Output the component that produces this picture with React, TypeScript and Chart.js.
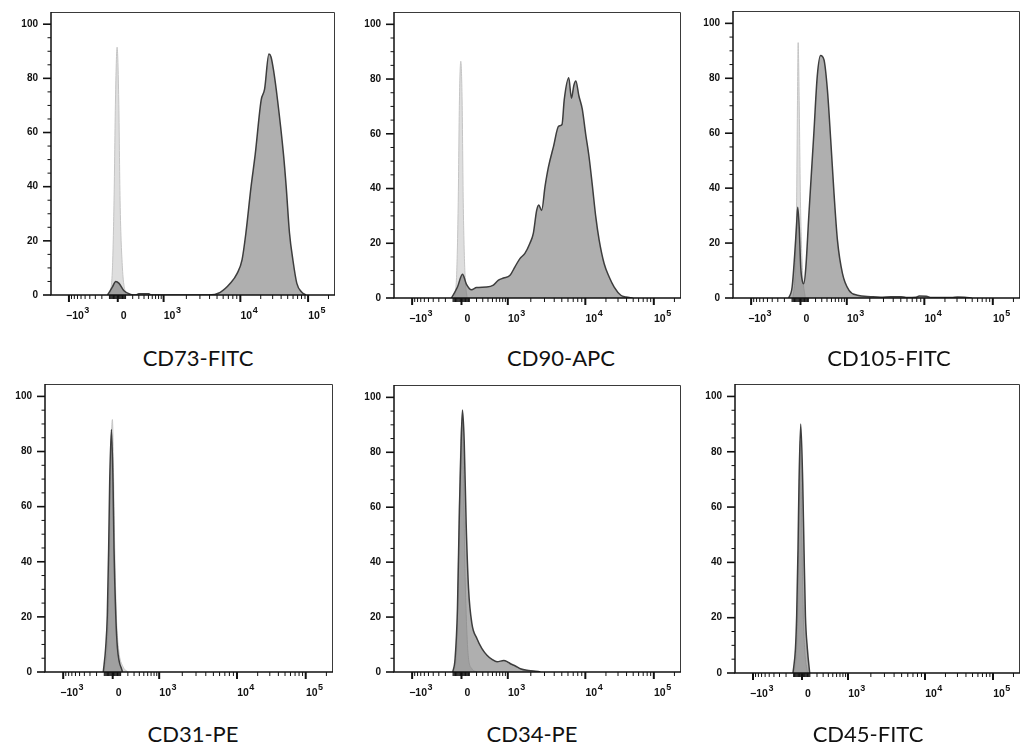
import React, { useEffect, useRef } from 'react';
import { Chart, Scale, registerables } from 'chart.js';

// ---------------- Axis ticks ----------------
const Y_TICKS = [0, 5, 10, 15, 20, 25, 30, 35, 40, 45, 50, 55, 60, 65, 70, 75, 80, 85, 90, 95, 100];
const Y_LABELLED = [0, 20, 40, 60, 80, 100];
const Y_MAX = 104.5;

const X_MAJOR_TICKS = [-1000, 0, 1000, 10000, 100000];
const X_TICK_BASES = ['\u221210', '0', '10', '10', '10'];
const X_TICK_EXPONENTS = ['3', '', '3', '4', '5'];
const X_MINOR_TICKS = [
  -900, -800, -700, -600, -500, -400, -300, -200, -100,
  -90, -80, -70, -60, -50, -40, -30, -20, -10,
  10, 20, 30, 40, 50, 60, 70, 80, 90,
  100, 200, 300, 400, 500, 600, 700, 800, 900,
  2000, 3000, 4000, 5000, 6000, 7000, 8000, 9000,
  20000, 30000, 40000, 50000, 60000, 70000, 80000, 90000,
  200000,
];

// ---------------- Histogram data (fluorescence value, % of max) ----------------
// CD73-FITC
const CD73_X = [-124, -63, -24, 16, 79, 171, 250, 300, 510, 560, 3870, 5500, 7420, 9100, 10600, 12100, 14400, 16600, 20300, 22800, 26400, 28300, 30900, 35400, 43300, 47500, 53100, 59600, 68200, 80900, 93000];
const CD73_Y = [0, 3, 5, 4.3, 1.6, 0.2, 0, 0.5, 0.5, 0, 0, 1, 4.3, 8, 13, 23, 40, 52, 72, 76, 89, 88, 83, 72, 52, 40, 23, 13, 4.3, 1, 0];
const CD73_ISO_X = [-95, -63, -44, -27, -8, 12.5, 29, 59, 100];
const CD73_ISO_Y = [0, 10, 35, 72, 91.5, 72, 35, 10, 0];

// CD90-APC
const CD90_X = [-120, -47, 12.5, 63, 128, 200, 373, 523, 662, 829, 1071, 1244, 1444, 1677, 1948, 2155, 2380, 2530, 2760, 3050, 3380, 3920, 4560, 5030, 5380, 6140, 6640, 7130, 7560, 8280, 9140, 10100, 11300, 12700, 14200, 15900, 18800, 22300, 26400, 33000, 39100, 49100];
const CD90_Y = [0, 4, 8.7, 5, 3, 3.8, 4, 4.7, 6.5, 7.3, 8.3, 11.4, 14.4, 16.3, 20, 23.6, 32, 34, 32, 40.8, 48, 55.4, 62.8, 63.4, 72.6, 80.5, 73, 77.7, 79.3, 73.8, 69, 60, 51.8, 40.8, 29.7, 21.2, 12.6, 7.7, 4, 1, 0.4, 0];
const CD90_ISO_X = [-80, -55, -38, -24, -8, 8, 22, 42, 70];
const CD90_ISO_Y = [0, 10, 35, 72, 86.5, 72, 35, 10, 0];

// CD105-FITC
const CD105_X = [-142, -99, -67.5, -47, -32, -15, 3.8, 25, 41, 67, 105, 175, 226, 280, 340, 408, 482, 565, 662, 829, 1071, 1377, 2050, 2760, 3730, 5030, 5830, 7850, 8600, 10700, 12700, 25000, 30600, 38700, 49100];
const CD105_Y = [0, 4, 16, 26, 33, 26, 11, 6, 5.2, 11, 29.6, 60, 80.8, 88.3, 86.8, 75.9, 57.6, 38, 21, 8.9, 2.8, 1, 0.5, 0.3, 0.5, 0.5, 0.2, 0.3, 0.7, 0.6, 0.2, 0.2, 0.4, 0.3, 0];
const CD105_ISO_X = [-90, -62, -45, -35, -27, -15, 0, 25, 60];
const CD105_ISO_Y = [0, 10, 35, 72, 93, 72, 35, 10, 0];

// CD31-PE
const CD31_X = [-112, -83, -63, -47, -35, -15, 4, 16, 38, 59, 124];
const CD31_Y = [0, 8.7, 20.7, 45, 69, 88, 69, 45, 20.7, 8.7, 0];
const CD31_ISO_X = [-110, -67, -50, -36, -26, -3.5, 12, 25, 45, 75, 130, 200];
const CD31_ISO_Y = [0, 8, 21, 45, 69, 91.6, 69, 45, 21, 8, 2, 0];

// CD34-PE
const CD34_X = [-104, -75, -47, -23.5, -3.5, 12.5, 34, 59, 89, 133, 205, 286, 379, 489, 620, 840, 971, 1084, 1259, 1462, 1780, 2176, 2657];
const CD34_Y = [0, 4.9, 23, 60, 84, 95.4, 84, 53.7, 30.5, 17.7, 12.2, 8.5, 6.1, 4.6, 3.7, 4.2, 3.8, 3, 2.2, 1.2, 0.6, 0.4, 0];
const CD34_ISO_X = [-95.5, -55.6, -32, -8.2, 8.8, 25, 41, 59, 85, 133, 205];
const CD34_ISO_Y = [0, 8.5, 47.6, 84, 91, 72, 41, 21, 6, 1.2, 0];

// CD45-FITC
const CD45_X = [-108, -78, -63, -47, -35, -15, 9, 25, 43, 68, 98];
const CD45_Y = [0, 8.7, 20.7, 45, 69, 90, 69, 45, 20.7, 8.7, 0];
const CD45_ISO_X = [-95, -65, -50, -38, -20, -2, 15, 35, 70];
const CD45_ISO_Y = [0, 8, 22, 50, 84, 50, 22, 8, 0];

// ---------------- Biexponential (asinh-based) axis ----------------
const BIEX_WIDTH = 300;
const BIEX_ANCHOR_VALUES = [-1000, 0, 1000, 10000, 100000];
const BIEX_ANCHOR_POS = [-49, 0, 46, 123, 191];
const VIEW_LEFT = -67;
const VIEW_RIGHT = 218;
const BIEX_ANCHOR_U = BIEX_ANCHOR_VALUES.map((v) => Math.asinh(v / BIEX_WIDTH));

function toDisplay(v: number): number {
  const u = Math.asinh(v / BIEX_WIDTH);
  let i = 0;
  while (i < BIEX_ANCHOR_U.length - 2 && u > BIEX_ANCHOR_U[i + 1]) i++;
  const t = (u - BIEX_ANCHOR_U[i]) / (BIEX_ANCHOR_U[i + 1] - BIEX_ANCHOR_U[i]);
  return BIEX_ANCHOR_POS[i] + t * (BIEX_ANCHOR_POS[i + 1] - BIEX_ANCHOR_POS[i]);
}
function fromDisplay(s: number): number {
  let i = 0;
  while (i < BIEX_ANCHOR_POS.length - 2 && s > BIEX_ANCHOR_POS[i + 1]) i++;
  const t = (s - BIEX_ANCHOR_POS[i]) / (BIEX_ANCHOR_POS[i + 1] - BIEX_ANCHOR_POS[i]);
  const u = BIEX_ANCHOR_U[i] + t * (BIEX_ANCHOR_U[i + 1] - BIEX_ANCHOR_U[i]);
  return BIEX_WIDTH * Math.sinh(u);
}
const X_MIN = fromDisplay(VIEW_LEFT);
const X_MAX = fromDisplay(VIEW_RIGHT);

class BiexScale extends Scale {
  static id = 'biex';
  static defaults = {};
  _sMin = 0;
  _sMax = 1;
  determineDataLimits() {
    const { min, max } = (this as any).getMinMax(true);
    (this as any).min = min;
    (this as any).max = max;
  }
  buildTicks() {
    const all = [
      ...X_MAJOR_TICKS.map((v) => ({ value: v, major: true })),
      ...X_MINOR_TICKS.map((v) => ({ value: v, major: false })),
    ];
    return all.sort((a, b) => a.value - b.value);
  }
  configure() {
    super.configure();
    this._sMin = toDisplay((this as any).min);
    this._sMax = toDisplay((this as any).max);
  }
  getPixelForValue(value: number) {
    if (value === null || value === undefined || isNaN(value)) return NaN;
    return (this as any).getPixelForDecimal((toDisplay(value) - this._sMin) / (this._sMax - this._sMin));
  }
  getValueForPixel(pixel: number) {
    const dec = (this as any).getDecimalForPixel(pixel);
    return fromDisplay(this._sMin + dec * (this._sMax - this._sMin));
  }
  getLabelForValue(value: number) {
    return String(value);
  }
}

Chart.register(...registerables, BiexScale as any);

// ---------------- Layout ----------------
const AXIS_W = 48;
const AXIS_H = 32;
const PAD_T = 4;
const PAD_R = 6;
const LABEL_FONT = '"Liberation Sans", Arial, sans-serif';

type PanelDef = {
  title: string;
  sx: number[]; sy: number[]; ix: number[]; iy: number[];
  area: [number, number, number, number];
  titleX: number; titleBaseline: number;
};

const PANELS: PanelDef[] = [
  { title: 'CD73-FITC', sx: CD73_X, sy: CD73_Y, ix: CD73_ISO_X, iy: CD73_ISO_Y, area: [51, 12, 335, 295], titleX: 198, titleBaseline: 366 },
  { title: 'CD90-APC', sx: CD90_X, sy: CD90_Y, ix: CD90_ISO_X, iy: CD90_ISO_Y, area: [394, 12, 681, 298], titleX: 561, titleBaseline: 366 },
  { title: 'CD105-FITC', sx: CD105_X, sy: CD105_Y, ix: CD105_ISO_X, iy: CD105_ISO_Y, area: [733, 11, 1020, 298], titleX: 889, titleBaseline: 366 },
  { title: 'CD31-PE', sx: CD31_X, sy: CD31_Y, ix: CD31_ISO_X, iy: CD31_ISO_Y, area: [45, 384, 333, 672], titleX: 193, titleBaseline: 742 },
  { title: 'CD34-PE', sx: CD34_X, sy: CD34_Y, ix: CD34_ISO_X, iy: CD34_ISO_Y, area: [394, 385, 681, 672], titleX: 532, titleBaseline: 742 },
  { title: 'CD45-FITC', sx: CD45_X, sy: CD45_Y, ix: CD45_ISO_X, iy: CD45_ISO_Y, area: [735, 384, 1020, 673], titleX: 868, titleBaseline: 742 },
];

const axisPlugin = {
  id: 'flowAxes',
  afterDraw(chart: any) {
    const { ctx, chartArea: a, scales } = chart;
    const xs = scales.x;
    const ys = scales.y;
    ctx.save();
    // frame: top & right thin
    ctx.strokeStyle = '#3a3a3a';
    ctx.lineWidth = 1;
    ctx.beginPath();
    ctx.moveTo(a.left, a.top + 0.5);
    ctx.lineTo(a.right - 0.5, a.top + 0.5);
    ctx.lineTo(a.right - 0.5, a.bottom);
    ctx.stroke();
    // left & bottom axis lines
    ctx.strokeStyle = '#111';
    ctx.lineWidth = 1.5;
    ctx.beginPath();
    ctx.moveTo(a.left, a.top);
    ctx.lineTo(a.left, a.bottom);
    ctx.lineTo(a.right, a.bottom);
    ctx.stroke();
    // x ticks
    xs.ticks.forEach((t: any) => {
      const px = xs.getPixelForValue(t.value);
      if (px < a.left - 0.5 || px > a.right + 0.5) return;
      ctx.lineWidth = t.major ? 2 : 1;
      ctx.beginPath();
      ctx.moveTo(px, a.bottom);
      ctx.lineTo(px, a.bottom + (t.major ? 7 : 4));
      ctx.stroke();
    });
    // y ticks
    ys.ticks.forEach((t: any) => {
      const py = ys.getPixelForValue(t.value);
      const major = Y_LABELLED.includes(t.value);
      ctx.lineWidth = major ? 1.6 : 1;
      ctx.beginPath();
      ctx.moveTo(a.left, py);
      ctx.lineTo(a.left - (major ? 8 : 3.5), py);
      ctx.stroke();
    });
    // x tick labels with superscript exponents
    ctx.fillStyle = '#111';
    ctx.textAlign = 'left';
    ctx.textBaseline = 'alphabetic';
    X_MAJOR_TICKS.forEach((v, i) => {
      const px = xs.getPixelForValue(v);
      ctx.font = `bold 10.5px ${LABEL_FONT}`;
      const base = X_TICK_BASES[i];
      const w = ctx.measureText(base).width;
      const x0 = px + 6 - w / 2;
      ctx.fillText(base, x0, a.bottom + 24);
      if (X_TICK_EXPONENTS[i]) {
        ctx.font = `bold 9px ${LABEL_FONT}`;
        ctx.fillText(X_TICK_EXPONENTS[i], x0 + w + 0.5, a.bottom + 18);
      }
    });
    ctx.restore();
  },
};

function Panel({ p }: { p: PanelDef }) {
  const ref = useRef<HTMLCanvasElement>(null);
  const [L, T, R, B] = p.area;
  const width = R - L + AXIS_W + PAD_R;
  const height = B - T + PAD_T + AXIS_H;

  useEffect(() => {
    const chart = new Chart(ref.current as HTMLCanvasElement, {
      type: 'line',
      data: {
        datasets: [
          {
            label: p.title,
            data: p.sx.map((x, i) => ({ x, y: p.sy[i] })),
            borderColor: '#3d3d3d',
            borderWidth: 1.5,
            backgroundColor: 'rgba(110,110,110,0.55)',
            fill: 'origin',
            pointRadius: 0,
            cubicInterpolationMode: 'monotone',
          },
          {
            label: 'Isotype',
            data: p.ix.map((x, i) => ({ x, y: p.iy[i] })),
            borderColor: '#c4c4c4',
            borderWidth: 1,
            backgroundColor: '#dedede',
            fill: 'origin',
            pointRadius: 0,
            cubicInterpolationMode: 'monotone',
          },
        ],
      } as any,
      options: {
        responsive: false,
        animation: false,
        events: [],
        layout: { padding: { top: PAD_T, right: PAD_R, left: 0, bottom: 0 } },
        plugins: { legend: { display: false }, tooltip: { enabled: false } },
        scales: {
          x: {
            type: 'biex',
            min: X_MIN,
            max: X_MAX,
            grid: { display: false, drawTicks: false },
            border: { display: false },
            ticks: { display: false },
            afterFit: (s: any) => { s.height = AXIS_H; s.paddingLeft = 0; s.paddingRight = 0; },
          },
          y: {
            type: 'linear',
            min: 0,
            max: Y_MAX,
            grid: { display: false, drawTicks: false },
            border: { display: false },
            afterBuildTicks: (s: any) => { s.ticks = Y_TICKS.map((v) => ({ value: v })); },
            ticks: {
              autoSkip: false,
              padding: 13,
              color: '#111',
              font: { family: LABEL_FONT, size: 10, weight: 'bold' },
              callback: (v: any) => (Y_LABELLED.includes(Number(v)) ? String(v) : ''),
            },
            afterFit: (s: any) => { s.width = AXIS_W; s.paddingTop = 0; s.paddingBottom = 0; },
          },
        },
      } as any,
      plugins: [axisPlugin],
    });
    return () => chart.destroy();
  }, []);

  return (
    <>
      <canvas
        ref={ref}
        width={width}
        height={height}
        style={{ position: 'absolute', left: L - AXIS_W, top: T - PAD_T, width, height }}
      />
      <div
        style={{
          position: 'absolute',
          left: p.titleX - 150,
          width: 300,
          top: p.titleBaseline - 19.5,
          height: 22,
          lineHeight: '22px',
          textAlign: 'center',
          fontFamily: 'Lato, "Open Sans", sans-serif',
          fontSize: 22,
          color: '#111',
          whiteSpace: 'nowrap',
        }}
      >
        {p.title}
      </div>
    </>
  );
}

export default function App() {
  return (
    <div style={{ position: 'fixed', left: 0, top: 0, width: 1027, height: 745, overflow: 'hidden', background: '#fff' }}>
      {PANELS.map((p) => (
        <Panel key={p.title} p={p} />
      ))}
    </div>
  );
}
